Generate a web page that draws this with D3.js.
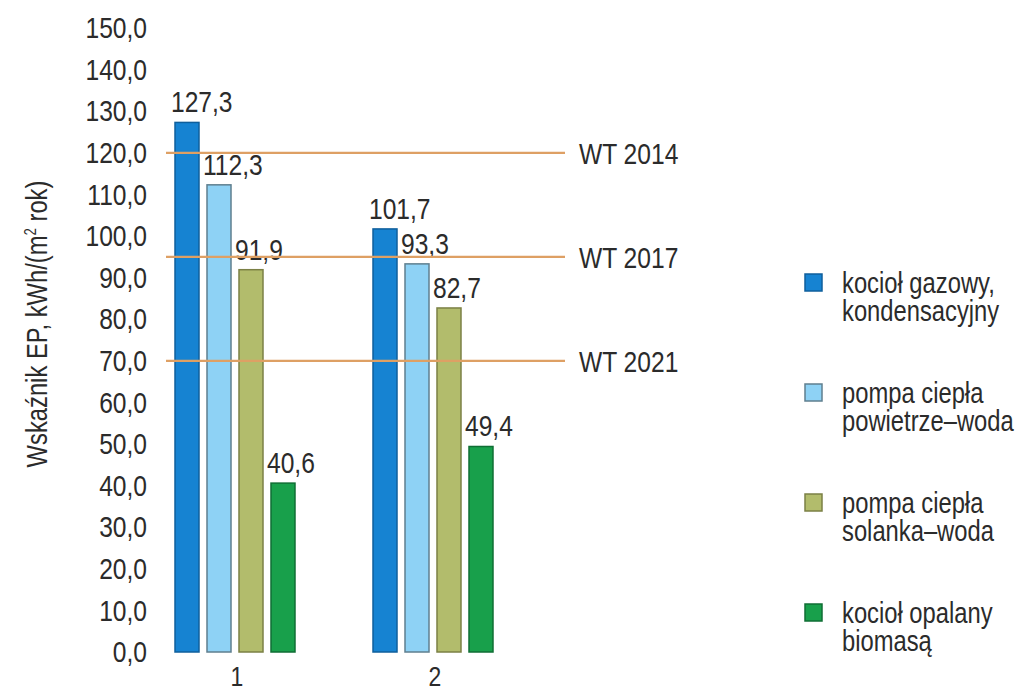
<!DOCTYPE html>
<html>
<head>
<meta charset="utf-8">
<script src="https://cdn.jsdelivr.net/npm/d3@7/dist/d3.min.js"></script>
<style>
  body { margin: 0; background: #fff; }
  svg text { font-family: "Liberation Sans", Arial, sans-serif; fill: #2b2b2b; }
</style>
</head>
<body>
<svg id="chart" width="1034" height="693"></svg>
<script>
// data
var groups = ['1', '2'];
var seriesKeys = ['gas', 'airPump', 'brinePump', 'biomass'];
var seriesLabels = [
    ['kocioł gazowy,', 'kondensacyjny'],
    ['pompa ciepła', 'powietrze–woda'],
    ['pompa ciepła', 'solanka–woda'],
    ['kocioł opalany', 'biomasą']
];
var gasValues = [127.3, 101.7];
var airPumpValues = [112.3, 93.3];
var brinePumpValues = [91.9, 82.7];
var biomassValues = [40.6, 49.4];
var standardNames = ['WT 2014', 'WT 2017', 'WT 2021'];
var standardValues = [120, 95, 70];
var yTickValues = [0, 10, 20, 30, 40, 50, 60, 70, 80, 90, 100, 110, 120, 130, 140, 150];

var fills = ['#1683d2', '#8ed2f5', '#b2bc6c', '#18a04b'];
var strokes = ['#0f5f9c', '#5f7f8f', '#7b8045', '#0f6e34'];
var scaleFill = d3.scaleOrdinal(seriesKeys, fills);
var scaleStroke = d3.scaleOrdinal(seriesKeys, strokes);

var svg = d3.select('#chart');
var comma = v => d3.format('.1f')(v).replace('.', ',');
var fontSize = '30px';
var sx = 0.82; // the original uses a condensed face, squeeze text horizontally

var rows = groups.map((g, i) => ({
    group: g,
    values: [gasValues[i], airPumpValues[i], brinePumpValues[i], biomassValues[i]]
        .map((v, j) => ({ key: seriesKeys[j], value: v }))
}));

var x0 = d3.scaleBand().domain(groups).range([136, 532])
    .paddingInner(0.394).paddingOuter(0.197);
var x1 = d3.scaleBand().domain(seriesKeys).range([0, x0.bandwidth()]).paddingInner(0.25);
var y = d3.scaleLinear().domain([0, 150]).range([652, 28]);

// y axis (labels only)
var yAxis = svg.append('g')
    .attr('transform', 'translate(147,0)')
    .call(d3.axisLeft(y).tickValues(yTickValues).tickFormat(comma).tickSize(0).tickPadding(0));
yAxis.select('.domain').remove();
yAxis.selectAll('text')
    .attr('transform', `scale(${sx},1)`)
    .style('font-size', fontSize)
    .style('fill', '#2b2b2b')
    .style('font-family', '"Liberation Sans", Arial, sans-serif');

// y title
var title = svg.append('text')
    .attr('transform', `translate(47,324) rotate(-90) scale(${sx},1)`)
    .attr('text-anchor', 'middle')
    .style('font-size', '29px');
title.append('tspan').text('Wskaźnik EP, kWh/(m');
title.append('tspan').attr('dy', -11).style('font-size', '16px').text('2');
title.append('tspan').attr('dy', 11).text(' rok)');

// bars
var groupG = svg.selectAll('.group')
    .data(rows)
    .enter().append('g')
    .attr('class', 'group')
    .attr('transform', d => `translate(${x0(d.group)},0)`);

groupG.selectAll('rect')
    .data(d => d.values)
    .enter().append('rect')
    .attr('x', d => x1(d.key))
    .attr('y', d => y(d.value))
    .attr('width', x1.bandwidth())
    .attr('height', d => y(0) - y(d.value))
    .style('fill', d => scaleFill(d.key))
    .style('stroke', d => scaleStroke(d.key))
    .style('stroke-width', 1.5);

// value labels
groupG.selectAll('.val')
    .data(d => d.values)
    .enter().append('text')
    .attr('class', 'val')
    .attr('transform', d => `translate(${x1(d.key) - 4},${y(d.value) - 10}) scale(${sx},1)`)
    .style('font-size', fontSize)
    .text(d => comma(d.value));

// standard lines
var std = svg.selectAll('.std')
    .data(standardValues)
    .enter().append('g')
    .attr('class', 'std');
std.append('line')
    .attr('x1', 166).attr('x2', 565)
    .attr('y1', d => y(d)).attr('y2', d => y(d))
    .style('stroke', '#dea064')
    .style('stroke-width', 2.2);
std.append('text')
    .attr('transform', d => `translate(579,${y(d)}) scale(${sx},1)`)
    .attr('dy', '0.36em')
    .style('font-size', fontSize)
    .text((d, i) => standardNames[i]);

// x labels
svg.selectAll('.xlab')
    .data(groups)
    .enter().append('text')
    .attr('class', 'xlab')
    .attr('transform', d => `translate(${x0(d) + x0.bandwidth() / 2 + 2},686) scale(${sx},1)`)
    .attr('text-anchor', 'middle')
    .style('font-size', '28px')
    .text(d => d);

// legend
var legend = svg.selectAll('.legend')
    .data(seriesKeys)
    .enter().append('g')
    .attr('class', 'legend')
    .attr('transform', (d, i) => `translate(805,${274 + i * 110})`);
legend.append('rect')
    .attr('width', 17).attr('height', 17)
    .style('fill', d => scaleFill(d))
    .style('stroke', d => scaleStroke(d))
    .style('stroke-width', 1.5);
legend.append('text')
    .attr('transform', `translate(37,19) scale(${sx},1)`)
    .style('font-size', '29px')
    .selectAll('tspan')
    .data((d, i) => seriesLabels[i])
    .enter().append('tspan')
    .attr('x', 0)
    .attr('dy', (d, i) => i === 0 ? 0 : 28)
    .text(d => d);
</script>
</body>
</html>
